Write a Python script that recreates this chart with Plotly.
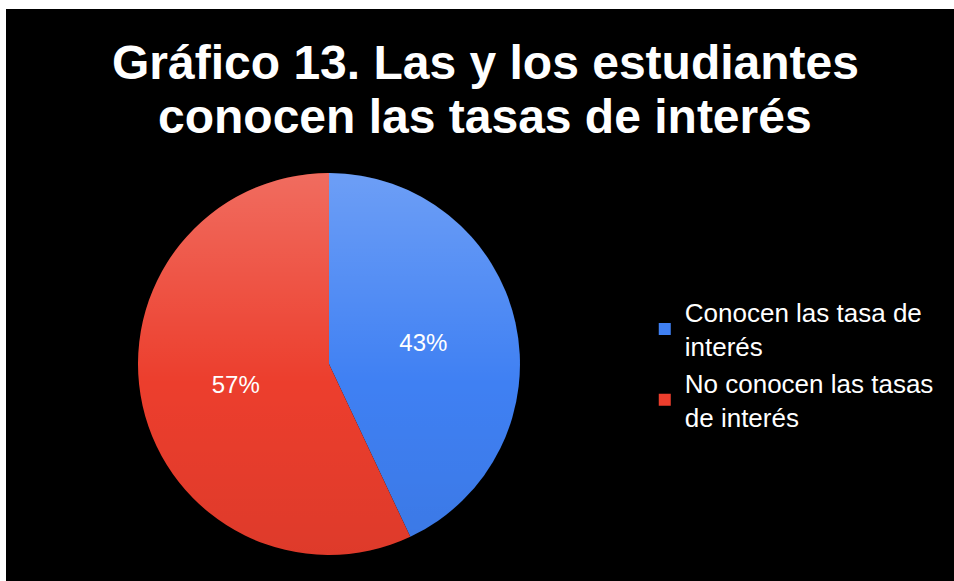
import base64
import plotly.graph_objects as go

# Survey result: students who know the interest rates
categories = ["Conocen las tasa de<br>interés", "No conocen las tasas<br>de interés"]
percentages = [43, 57]
slice_colors = ["#3f80f3", "#ec3e2d"]

title_lines = ["Gráfico 13. Las y los estudiantes", "conocen las tasas de interés"]

FONT = "Liberation Sans, Arial, sans-serif"

# pie placement inside the black chart area (paper fractions)
PIE_X = [0.1392, 0.5422]
PIE_Y = [0.0455, 0.7133]

fig = go.Figure()

fig.add_trace(go.Pie(
    labels=categories,
    values=percentages,
    sort=False,
    direction="clockwise",
    rotation=0,
    marker=dict(colors=slice_colors, line=dict(width=0)),
    texttemplate="%{value}%",
    textposition="inside",
    insidetextorientation="horizontal",
    textfont=dict(color="white", size=24, family=FONT),
    domain=dict(x=PIE_X, y=PIE_Y),
    hoverinfo="label+percent",
))

# black chart area
fig.add_shape(type="rect", xref="paper", yref="paper", x0=0, x1=1, y0=0, y1=1,
              fillcolor="black", line=dict(width=0), layer="below")

# soft vertical shading over the pie: lighter at the top, darker at the bottom
shade_svg = (
    "<svg xmlns='http://www.w3.org/2000/svg' width='100' height='100' viewBox='0 0 100 100'>"
    "<defs><linearGradient id='g' x1='0' y1='0' x2='0' y2='1'>"
    "<stop offset='0' stop-color='#ffffff' stop-opacity='0.24'/>"
    "<stop offset='0.55' stop-color='#ffffff' stop-opacity='0'/>"
    "<stop offset='0.55' stop-color='#000000' stop-opacity='0'/>"
    "<stop offset='1' stop-color='#000000' stop-opacity='0.06'/>"
    "</linearGradient></defs>"
    "<circle cx='50' cy='50' r='50' fill='url(#g)'/></svg>"
)
fig.add_layout_image(
    source="data:image/svg+xml;base64," + base64.b64encode(shade_svg.encode()).decode(),
    xref="paper", yref="paper",
    x=PIE_X[0], y=PIE_Y[1], sizex=PIE_X[1] - PIE_X[0], sizey=PIE_Y[1] - PIE_Y[0],
    xanchor="left", yanchor="top", sizing="stretch", layer="above",
)

# two-line bold title
for i, line in enumerate(title_lines):
    fig.add_annotation(
        text=f"<b>{line}</b>", xref="paper", yref="paper",
        x=(485 - 6) / 948, y=1 - ((62 + 55 * i) - 9) / 572,
        xanchor="center", yanchor="middle", showarrow=False,
        font=dict(color="white", size=48, family=FONT),
    )

fig.update_layout(
    width=954, height=581,
    margin=dict(l=6, r=0, t=9, b=0),
    paper_bgcolor="white",
    showlegend=True,
    legend=dict(
        x=0.6738, y=0.378, xanchor="left", yanchor="middle",
        font=dict(color="white", size=26, family=FONT),
        bgcolor="rgba(0,0,0,0)", itemsizing="constant",
    ),
)

fig.write_html("out.html")
